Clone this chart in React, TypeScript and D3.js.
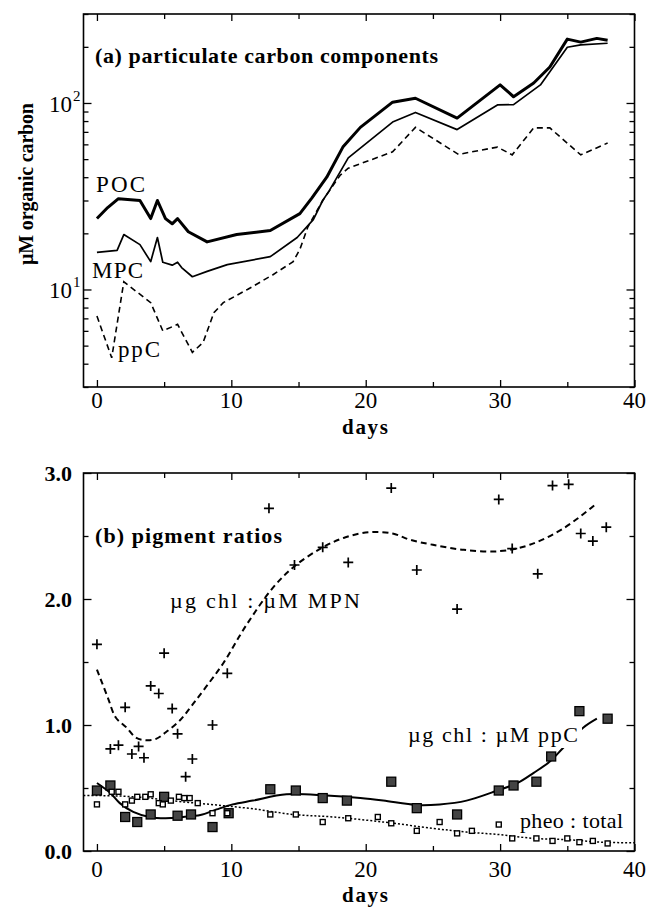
import React, { useRef, useEffect } from 'react';
import * as d3 from 'd3';

// (a) particulate carbon components, µM C (log axis)
const pocDays = [0, 0.8, 1.6, 3.2, 4.0, 4.5, 5.1, 5.6, 6.0, 6.8, 8.2, 10.4, 12.9, 15.1, 16.0, 17.1, 18.3, 19.6, 22.0, 23.7, 26.8, 30.0, 31.0, 32.5, 33.7, 35.0, 36.0, 37.2, 38.0];
const pocVals = [24, 27.5, 30.7, 30, 24, 30, 24, 22.5, 24, 20.4, 18, 19.7, 20.7, 25.5, 31, 40, 58, 74, 101, 106, 83, 125, 108, 128, 156, 220, 212, 222, 217];

const mpcDays = [0, 1.5, 2.0, 3.2, 4.0, 4.5, 4.9, 5.6, 6.0, 6.3, 7.1, 8.2, 9.7, 12.9, 14.9, 16.1, 16.8, 17.3, 18.7, 22.0, 23.7, 26.8, 29.8, 31.0, 33.0, 35.0, 36.0, 38.0];
const mpcVals = [15.8, 16.2, 19.7, 17.4, 14.1, 19, 14, 13.5, 14, 13.1, 11.7, 12.5, 13.6, 15, 19, 23.7, 30, 34, 50.8, 79, 89, 72, 97.6, 98, 125, 199, 205, 209];

const ppcDays = [0, 1.1, 2.0, 4.0, 4.9, 6.0, 7.1, 7.9, 8.7, 9.4, 11.2, 13.1, 14.6, 15.1, 15.7, 16.8, 18.1, 18.7, 22.0, 23.7, 26.9, 29.8, 30.9, 32.5, 33.7, 36.0, 38.0];
const ppcVals = [7.2, 4.3, 11, 8.5, 6.0, 6.5, 4.6, 5.2, 7.5, 8.5, 10, 12, 14.1, 16.4, 21.7, 30, 41, 44.7, 54.7, 74, 53, 58, 52.7, 73.5, 73.5, 52.7, 61];

// (b) pigment ratios
// µg chl : µM MPN (crosses) and its fitted curve
const mpnDays = [0, 1.0, 1.6, 2.1, 2.6, 3.1, 3.5, 4.0, 4.6, 5.0, 5.6, 6.0, 6.6, 7.1, 8.6, 9.7, 12.8, 14.7, 16.8, 18.7, 21.9, 23.8, 26.8, 29.9, 30.9, 32.8, 33.9, 35.1, 36.0, 36.9, 37.9];
const mpnVals = [1.64, 0.81, 0.84, 1.14, 0.77, 0.83, 0.74, 1.31, 1.25, 1.57, 1.13, 0.93, 0.59, 0.73, 1.00, 1.41, 2.72, 2.27, 2.41, 2.29, 2.88, 2.23, 1.92, 2.79, 2.40, 2.20, 2.90, 2.91, 2.52, 2.46, 2.57];
const mpnFitDays = [0, 0.8, 1.4, 2.2, 2.9, 3.6, 4.4, 5.1, 6.2, 7.1, 8.1, 9.4, 11.1, 13.1, 14.7, 16.8, 18.5, 20.3, 22, 23.3, 25, 27.3, 30, 32.2, 34.7, 37.1];
const mpnFitVals = [1.44, 1.22, 1.06, 0.98, 0.90, 0.88, 0.89, 0.94, 1.04, 1.16, 1.30, 1.49, 1.79, 2.09, 2.26, 2.41, 2.49, 2.53, 2.52, 2.47, 2.43, 2.39, 2.38, 2.43, 2.56, 2.75];

// µg chl : µM ppC (large squares) and its fitted curve
const chlDays = [0, 1.0, 2.1, 3.0, 4.0, 5.0, 6.0, 7.0, 8.6, 9.8, 12.9, 14.8, 16.8, 18.6, 21.9, 23.8, 26.8, 29.9, 31.0, 32.7, 33.8, 35.9, 38.0];
const chlVals = [0.48, 0.52, 0.27, 0.23, 0.29, 0.43, 0.28, 0.29, 0.19, 0.30, 0.49, 0.48, 0.42, 0.40, 0.55, 0.34, 0.29, 0.48, 0.52, 0.55, 0.75, 1.11, 1.05];
const chlFitDays = [0, 1, 1.7, 2.7, 3.9, 5.1, 6.4, 7.7, 8.9, 10.1, 11.6, 14.1, 17.1, 19.6, 21.3, 23.8, 25.5, 27.5, 29.8, 31.3, 32.5, 33.7, 34.7, 36.2, 37.2];
const chlFitVals = [0.54, 0.46, 0.38, 0.31, 0.27, 0.26, 0.27, 0.285, 0.33, 0.37, 0.40, 0.45, 0.44, 0.42, 0.40, 0.365, 0.37, 0.40, 0.48, 0.54, 0.62, 0.71, 0.82, 0.98, 1.05];

// pheo : total (small squares) and its fitted curve
const pheoDays = [0, 1.1, 1.6, 2.1, 2.6, 3.0, 3.6, 4.0, 4.6, 4.9, 5.5, 6.1, 6.5, 6.9, 7.5, 8.6, 9.7, 12.9, 14.8, 16.8, 18.7, 20.9, 21.9, 23.8, 25.5, 26.8, 27.9, 29.9, 30.9, 32.7, 33.9, 35.0, 35.9, 36.9, 38.0];
const pheoVals = [0.37, 0.47, 0.47, 0.37, 0.40, 0.43, 0.43, 0.45, 0.38, 0.37, 0.40, 0.43, 0.42, 0.42, 0.38, 0.30, 0.30, 0.29, 0.29, 0.23, 0.26, 0.27, 0.22, 0.16, 0.23, 0.14, 0.16, 0.21, 0.10, 0.10, 0.08, 0.10, 0.07, 0.08, 0.06];
const pheoFitDays = [-1, 0, 2, 3.9, 6.4, 8.9, 11.6, 14.6, 17.6, 21.3, 25, 27.5, 30, 32.5, 35, 37.5, 40];
const pheoFitVals = [0.44, 0.44, 0.435, 0.42, 0.39, 0.365, 0.335, 0.29, 0.27, 0.23, 0.18, 0.15, 0.13, 0.10, 0.09, 0.07, 0.065];

const xMajor = [0, 10, 20, 30, 40];
const xMinor = [5, 15, 25, 35];
const yBMajor = [0, 1, 2, 3];
const yBMinor = [0.5, 1.5, 2.5];

const SERIF = 'Liberation Serif';

const zip = (xs: number[], ys: number[]) => xs.map((d, i) => [d, ys[i]] as [number, number]);

const App = () => {
    const svgRef = useRef<SVGSVGElement>(null);

    useEffect(() => {
        const svg = d3.select(svgRef.current);
        svg.selectAll('*').remove();

        const left = 83.5, right = 634.5;
        const x = d3.scaleLinear().domain([-1, 40]).range([left, right]);
        const yA = d3.scaleLog().domain([3, 300]).range([387, 14]);
        const yB = d3.scaleLinear().domain([0, 3]).range([851, 473]);

        const label = (t: string, px: number, py: number, size: number, bold: boolean, len?: number) => {
            const el = svg.append('text')
                .attr('x', px).attr('y', py)
                .attr('font-family', SERIF).attr('font-size', size)
                .attr('font-weight', bold ? 'bold' : 'normal')
                .text(t);
            if (len) el.attr('textLength', len).attr('lengthAdjust', 'spacing');
            return el;
        };

        // inward ticks on top and bottom edge of a panel
        const xTicks = (top: number, bottom: number, labelY: number) => {
            const sides: [any, number][] = [[d3.axisBottom, bottom], [d3.axisTop, top]];
            sides.forEach(([mk, yy]) => {
                [[xMajor, 7], [xMinor, 5]].forEach(([vals, len]: any) => {
                    svg.append('g').attr('transform', `translate(0,${yy})`)
                        .call(mk(x).tickValues(vals).tickSize(-len).tickSizeOuter(0).tickFormat(() => ''))
                        .call((g: any) => g.select('.domain').remove())
                        .selectAll('line').attr('stroke-width', 1.3);
                });
            });
            svg.append('g').selectAll('text').data(xMajor).join('text')
                .attr('x', d => x(d)).attr('y', labelY)
                .attr('text-anchor', 'middle')
                .attr('font-family', SERIF).attr('font-size', 23)
                .text(d => d);
        };

        // inward ticks on left and right edge
        const yTicks = (y: any, major: number[], minor: number[]) => {
            const sides: [any, number][] = [[d3.axisRight, left], [d3.axisLeft, right]];
            sides.forEach(([mk, xx]) => {
                [[major, 8], [minor, 5]].forEach(([vals, len]: any) => {
                    svg.append('g').attr('transform', `translate(${xx},0)`)
                        .call(mk(y).tickValues(vals).tickSize(len).tickSizeOuter(0).tickFormat(() => ''))
                        .call((g: any) => g.select('.domain').remove())
                        .selectAll('line').attr('stroke-width', 1.3);
                });
            });
        };

        const frame = (top: number, bottom: number) => {
            svg.append('rect')
                .attr('x', left).attr('y', top)
                .attr('width', right - left).attr('height', bottom - top)
                .attr('fill', 'none').attr('stroke', '#000').attr('stroke-width', 1.6);
        };

        // ---------- panel (a) ----------
        frame(14, 387);
        xTicks(14, 387, 408);
        const logTicks = yA.ticks();
        const logMajor = logTicks.filter(d => Math.abs(Math.log10(d) - Math.round(Math.log10(d))) < 1e-9);
        const logMinor = logTicks.filter(d => !logMajor.includes(d));
        yTicks(yA, logMajor, logMinor);
        logMajor.forEach(v => {
            svg.append('text')
                .attr('x', 72).attr('y', yA(v) + 9)
                .attr('text-anchor', 'end')
                .attr('font-family', SERIF).attr('font-size', 23)
                .text('10');
            svg.append('text')
                .attr('x', 73).attr('y', yA(v) - 2)
                .attr('font-family', SERIF).attr('font-size', 15)
                .text(String(Math.round(Math.log10(v))));
        });

        const lineA = d3.line<[number, number]>().x(d => x(d[0])).y(d => yA(d[1]));
        svg.append('path').attr('d', lineA(zip(ppcDays, ppcVals)))
            .attr('fill', 'none').attr('stroke', '#000').attr('stroke-width', 1.6)
            .attr('stroke-dasharray', '6,4');
        svg.append('path').attr('d', lineA(zip(mpcDays, mpcVals)))
            .attr('fill', 'none').attr('stroke', '#000').attr('stroke-width', 1.7)
            .attr('stroke-linejoin', 'round');
        svg.append('path').attr('d', lineA(zip(pocDays, pocVals)))
            .attr('fill', 'none').attr('stroke', '#000').attr('stroke-width', 3)
            .attr('stroke-linejoin', 'round');

        label('(a) particulate carbon components', 95, 63, 22, true, 343);
        label('POC', 96, 192, 23, false, 49);
        label('MPC', 92, 278, 23, false, 51);
        label('ppC', 118, 357, 23, false, 42);
        label('µM organic carbon', 0, 0, 20, true, 162)
            .attr('text-anchor', 'middle')
            .attr('transform', 'translate(33,184) rotate(-90)');
        label('days', 365, 434, 21, true, 46).attr('text-anchor', 'middle');

        // ---------- panel (b) ----------
        frame(473, 851);
        xTicks(473, 851, 877);
        yTicks(yB, yBMajor, yBMinor);
        svg.append('g').selectAll('text').data(yBMajor).join('text')
            .attr('x', 72).attr('y', d => yB(d) + 8)
            .attr('text-anchor', 'end')
            .attr('font-family', SERIF).attr('font-size', 22).attr('font-weight', 'bold')
            .text(d => d.toFixed(1));

        const lineB = d3.line<[number, number]>()
            .x(d => x(d[0])).y(d => yB(d[1]))
            .curve(d3.curveCatmullRom);

        svg.append('path').attr('d', lineB(zip(pheoFitDays, pheoFitVals)))
            .attr('fill', 'none').attr('stroke', '#000').attr('stroke-width', 1.5)
            .attr('stroke-dasharray', '2,2');
        svg.append('path').attr('d', lineB(zip(chlFitDays, chlFitVals)))
            .attr('fill', 'none').attr('stroke', '#000').attr('stroke-width', 2);
        svg.append('path').attr('d', lineB(zip(mpnFitDays, mpnFitVals)))
            .attr('fill', 'none').attr('stroke', '#000').attr('stroke-width', 2)
            .attr('stroke-dasharray', '6,4');

        // the ppC label breaks the solid curve
        svg.append('rect').attr('x', 404).attr('y', 724).attr('width', 178).attr('height', 24).attr('fill', '#fff');
        label('µg chl : µM ppC', 408, 742, 22, false, 170);
        label('µg chl : µM MPN', 170, 608, 22, false, 190);
        label('pheo : total', 520, 828, 22, false, 103);
        label('(b) pigment ratios', 95, 543, 22, true, 187);
        label('days', 365, 902, 21, true, 46).attr('text-anchor', 'middle');

        // markers
        svg.append('g').selectAll('path').data(zip(mpnDays, mpnVals)).join('path')
            .attr('d', d => `M${x(d[0]) - 5},${yB(d[1])}h10M${x(d[0])},${yB(d[1]) - 5}v10`)
            .attr('stroke', '#000').attr('stroke-width', 1.7);
        svg.append('g').selectAll('rect').data(zip(chlDays, chlVals)).join('rect')
            .attr('x', d => x(d[0]) - 4.5).attr('y', d => yB(d[1]) - 4.5)
            .attr('width', 9).attr('height', 9)
            .attr('fill', '#444').attr('stroke', '#000').attr('stroke-width', 1.3);
        svg.append('g').selectAll('rect').data(zip(pheoDays, pheoVals)).join('rect')
            .attr('x', d => x(d[0]) - 2.5).attr('y', d => yB(d[1]) - 2.5)
            .attr('width', 5).attr('height', 5)
            .attr('fill', '#fff').attr('stroke', '#000').attr('stroke-width', 1.4);
    }, []);

    return <svg ref={svgRef} width={648} height={907}
        style={{ position: 'absolute', left: 0, top: 0, background: '#fff', fontFamily: "'Liberation Serif', serif" }}></svg>;
};

export default App;
